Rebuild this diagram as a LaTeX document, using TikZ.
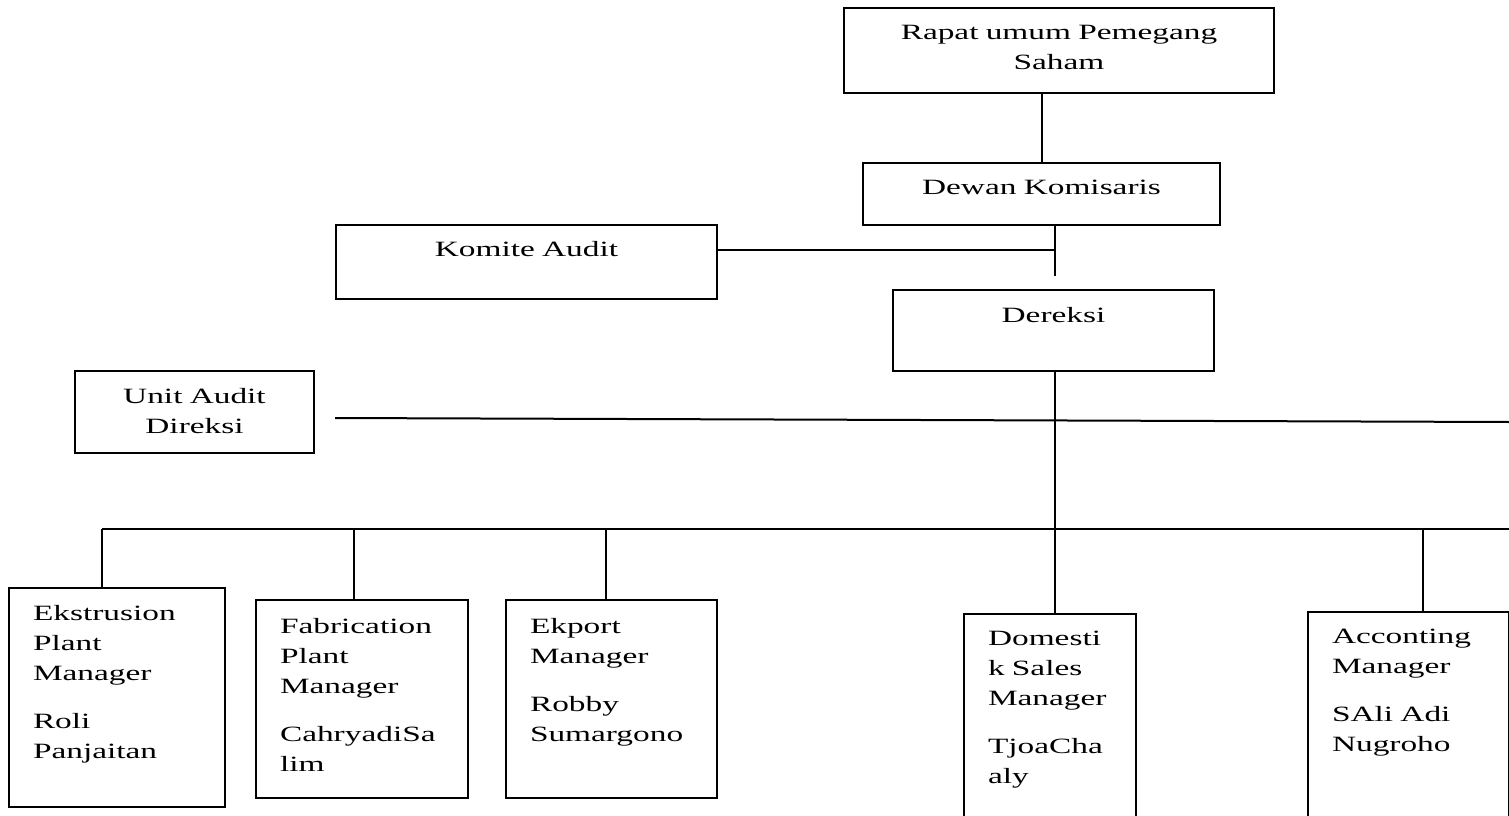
\documentclass[tikz,border=0pt]{standalone}
\usepackage{fontspec}
\setmainfont{Liberation Serif}[FakeStretch=1.53]
\usepackage{tikz}
\tikzstyle{orgbox}=[rectangle,draw=black,line width=2pt,inner ysep=0pt,
                    anchor=north west,font=\fontsize{21.8}{30}\selectfont]
\tikzstyle{headbox}=[orgbox,align=center,inner xsep=0pt]
\tikzstyle{mgrbox}=[orgbox,align=left,inner xsep=24pt]
\tikzstyle{line}=[black,line width=2pt]

\begin{document}
\begin{tikzpicture}[x=1pt,y=-1pt]
	\useasboundingbox (0,0) rectangle (1509,816);

	\node[headbox,text width=430pt,text height=32pt,text depth=53pt] (rups) at (843,7) {Rapat umum Pemegang\\Saham};
	\node[headbox,text width=357pt,text height=31pt,text depth=31pt] (dewan) at (862,162) {Dewan Komisaris};
	\node[headbox,text width=381pt,text height=31pt,text depth=43pt] (komite) at (335,224) {Komite Audit};
	\node[headbox,text width=321pt,text height=32pt,text depth=49pt] (direksi) at (892,289) {Dereksi};
	\node[headbox,text width=239pt,text height=32pt,text depth=50pt] (uad) at (74,370) {Unit Audit\\Direksi};

	\node[mgrbox,text width=168pt,text height=32pt,text depth=187pt] (ekstrusion) at (8,587)
		{Ekstrusion\\Plant\\Manager\\[18pt]Roli\\Panjaitan};
	\node[mgrbox,text width=164pt,text height=33pt,text depth=165pt] (fabrication) at (255,599)
		{Fabrication\\Plant\\Manager\\[18pt]CahryadiSa\\lim};
	\node[mgrbox,text width=163pt,text height=33pt,text depth=165pt] (ekport) at (505,599)
		{Ekport\\Manager\\[18pt]Robby\\Sumargono};
	\node[mgrbox,text width=124pt,text height=31pt,text depth=220pt] (domestik) at (963,613)
		{Domesti\\k Sales\\Manager\\[18pt]TjoaCha\\aly};
	\node[mgrbox,text width=153pt,text height=31pt,text depth=220pt] (acconting) at (1307,611)
		{Acconting\\Manager\\[18pt]SAli Adi\\Nugroho};

	\coordinate (kj) at (1055,250);
	\coordinate (bus) at (1055,529);
	\coordinate (ua) at (335,418);
	\coordinate (uaend) at (1509,422);
	\coordinate (busend) at (1509,529);
	\coordinate (busstart) at (102,529);

	\draw[line] (dewan.north) -- (dewan.north |- rups.south);
	\draw[line] (kj |- dewan.south) -- (1055,276);
	\draw[line] (komite.east |- kj) -- (kj);
	\draw[line] (bus |- direksi.south) -- (bus);
	\draw[line] (ua) -- (uaend);
	\draw[line] (busstart) -- (busend);
	\foreach \n/\x in {ekstrusion/102,fabrication/354,ekport/606,domestik/1055,acconting/1423}{
		\coordinate (drop) at (\x,529);
		\draw[line] (drop) -- (drop |- \n.north);
	}
\end{tikzpicture}
\end{document}
